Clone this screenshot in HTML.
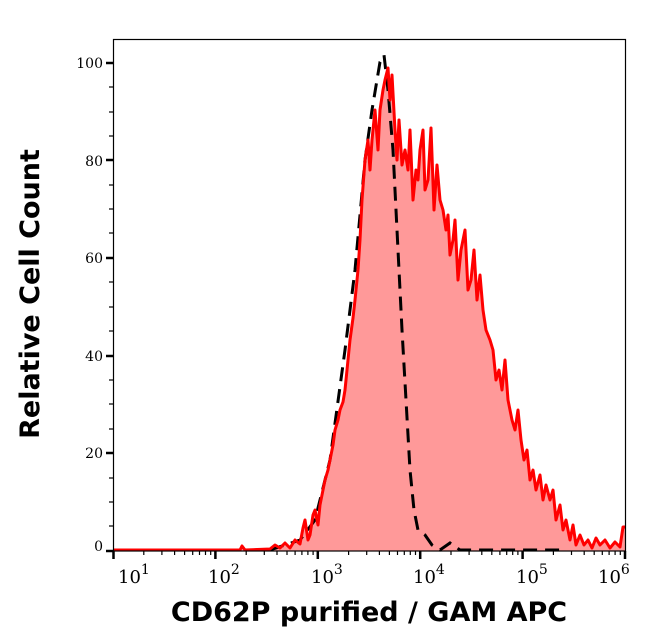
<!DOCTYPE html>
<html><head><meta charset="utf-8"><style>
body{margin:0;background:#fff;}
svg{display:block;}
.t{font-family:"DejaVu Serif","Liberation Serif",serif;font-size:14px;fill:#000;}
.x{font-family:"DejaVu Serif","Liberation Serif",serif;font-size:18px;fill:#000;}
</style></head><body>
<svg width="646" height="641" viewBox="0 0 646 641">
<rect width="646" height="641" fill="#fff"/>
<polygon fill="#ff9999" points="113,551 113,550 240,550 242,546 245,550 270,549 275,545 280,548 285,543 290,548 295,540 300,544 303,528 305,520 308,540 310,535 313,515 315,510 318,525 320,505 323,490 325,480 328,470 330,460 333,445 335,430 338,420 340,410 343,402 345,390 348,360 350,340 353,318 355,300 358,270 360,240 362,200 365,160 368,140 370,170 372,140 375,110 378,150 380,110 383,90 385,80 388,68 390,100 392,75 395,130 397,160 399,120 402,165 405,150 408,170 410,130 413,200 416,170 418,180 420,150 423,130 425,190 428,180 431,128 434,210 437,165 440,200 443,210 446,230 448,215 450,255 453,240 455,220 458,280 461,250 465,230 468,290 471,280 474,250 477,300 480,275 483,310 486,330 490,340 493,350 496,380 499,370 502,390 505,360 508,400 512,420 515,430 518,410 521,440 524,460 527,450 530,480 533,470 536,490 540,475 543,500 546,485 550,500 553,490 556,520 560,505 563,530 566,520 570,540 573,525 576,545 580,535 584,545 588,540 592,548 596,538 600,545 605,540 610,548 615,542 620,547 623,527 625,527 625,551"/>
<polyline fill="none" stroke="#000" stroke-width="3" stroke-dasharray="14,8" points="270,550 300,540 315,520 330,460 345,350 355,270 365,160 372,110 380,62 384,55 388,90 393,150 398,250 402,330 406,400 410,470 414,510 418,530 425,535 432,545 440,550 450,543 460,550 480,550 530,550 560,550"/>
<polyline fill="none" stroke="#ff0000" stroke-width="3" stroke-linejoin="round" points="113,550 240,550 242,546 245,550 270,549 275,545 280,548 285,543 290,548 295,540 300,544 303,528 305,520 308,540 310,535 313,515 315,510 318,525 320,505 323,490 325,480 328,470 330,460 333,445 335,430 338,420 340,410 343,402 345,390 348,360 350,340 353,318 355,300 358,270 360,240 362,200 365,160 368,140 370,170 372,140 375,110 378,150 380,110 383,90 385,80 388,68 390,100 392,75 395,130 397,160 399,120 402,165 405,150 408,170 410,130 413,200 416,170 418,180 420,150 423,130 425,190 428,180 431,128 434,210 437,165 440,200 443,210 446,230 448,215 450,255 453,240 455,220 458,280 461,250 465,230 468,290 471,280 474,250 477,300 480,275 483,310 486,330 490,340 493,350 496,380 499,370 502,390 505,360 508,400 512,420 515,430 518,410 521,440 524,460 527,450 530,480 533,470 536,490 540,475 543,500 546,485 550,500 553,490 556,520 560,505 563,530 566,520 570,540 573,525 576,545 580,535 584,545 588,540 592,548 596,538 600,545 605,540 610,548 615,542 620,547 623,527 625,527"/>
<rect x="113.5" y="39.5" width="512" height="511.5" fill="none" stroke="#000" stroke-width="1.2"/>
<g stroke="#000" stroke-width="2.5">
<line x1="106" y1="551" x2="113" y2="551"/><line x1="106" y1="453" x2="113" y2="453"/><line x1="106" y1="356" x2="113" y2="356"/><line x1="106" y1="258" x2="113" y2="258"/><line x1="106" y1="160" x2="113" y2="160"/><line x1="106" y1="63" x2="113" y2="63"/>
</g>
<g stroke="#000" stroke-width="1.2">
<line x1="109" y1="502" x2="113" y2="502"/><line x1="109" y1="404" x2="113" y2="404"/><line x1="109" y1="307" x2="113" y2="307"/><line x1="109" y1="209" x2="113" y2="209"/><line x1="109" y1="112" x2="113" y2="112"/>
<line x1="109" y1="526" x2="113" y2="526"/><line x1="109" y1="478" x2="113" y2="478"/><line x1="109" y1="429" x2="113" y2="429"/><line x1="109" y1="380" x2="113" y2="380"/><line x1="109" y1="331" x2="113" y2="331"/><line x1="109" y1="282" x2="113" y2="282"/><line x1="109" y1="233" x2="113" y2="233"/><line x1="109" y1="185" x2="113" y2="185"/><line x1="109" y1="136" x2="113" y2="136"/><line x1="109" y1="87" x2="113" y2="87"/>
</g>
<path stroke="#000" stroke-width="2.5" fill="none" d="M113.5 551v8M215.4 551v8M317.8 551v8M420.2 551v8M522.6 551v8M625 551v8"/>
<path stroke="#000" stroke-width="1.2" fill="none" d="M143.8 551v4M161.9 551v4M174.6 551v4M184.6 551v4M192.7 551v4M199.5 551v4M205.5 551v4M210.7 551v4M246.2 551v4M264.3 551v4M277 551v4M287 551v4M295.1 551v4M301.9 551v4M307.9 551v4M313.1 551v4M348.6 551v4M366.7 551v4M379.4 551v4M389.4 551v4M397.5 551v4M404.3 551v4M410.3 551v4M415.5 551v4M451 551v4M469.1 551v4M481.8 551v4M491.8 551v4M499.9 551v4M506.7 551v4M512.7 551v4M517.9 551v4M553.4 551v4M571.5 551v4M584.2 551v4M594.2 551v4M602.3 551v4M609.1 551v4M615.1 551v4M620.3 551v4"/>
<g class="t" text-anchor="end">
<text x="103" y="551">0</text><text x="103" y="458">20</text><text x="103" y="361">40</text><text x="103" y="263">60</text><text x="103" y="166">80</text><text x="103" y="68">100</text>
</g>
<g class="x">
<text x="118" y="583">10<tspan dy="-9" font-size="14">1</tspan></text>
<text x="208" y="583">10<tspan dy="-9" font-size="14">2</tspan></text>
<text x="311" y="583">10<tspan dy="-9" font-size="14">3</tspan></text>
<text x="413" y="583">10<tspan dy="-9" font-size="14">4</tspan></text>
<text x="516" y="583">10<tspan dy="-9" font-size="14">5</tspan></text>
<text x="598" y="583">10<tspan dy="-9" font-size="14">6</tspan></text>
</g>
<text x="369" y="621" text-anchor="middle" font-family="'DejaVu Sans','Liberation Sans',sans-serif" font-weight="bold" font-size="27">CD62P purified / GAM APC</text>
<text transform="translate(39,294) rotate(-90)" text-anchor="middle" font-family="'DejaVu Sans','Liberation Sans',sans-serif" font-weight="bold" font-size="27">Relative Cell Count</text>
</svg>
</body></html>
